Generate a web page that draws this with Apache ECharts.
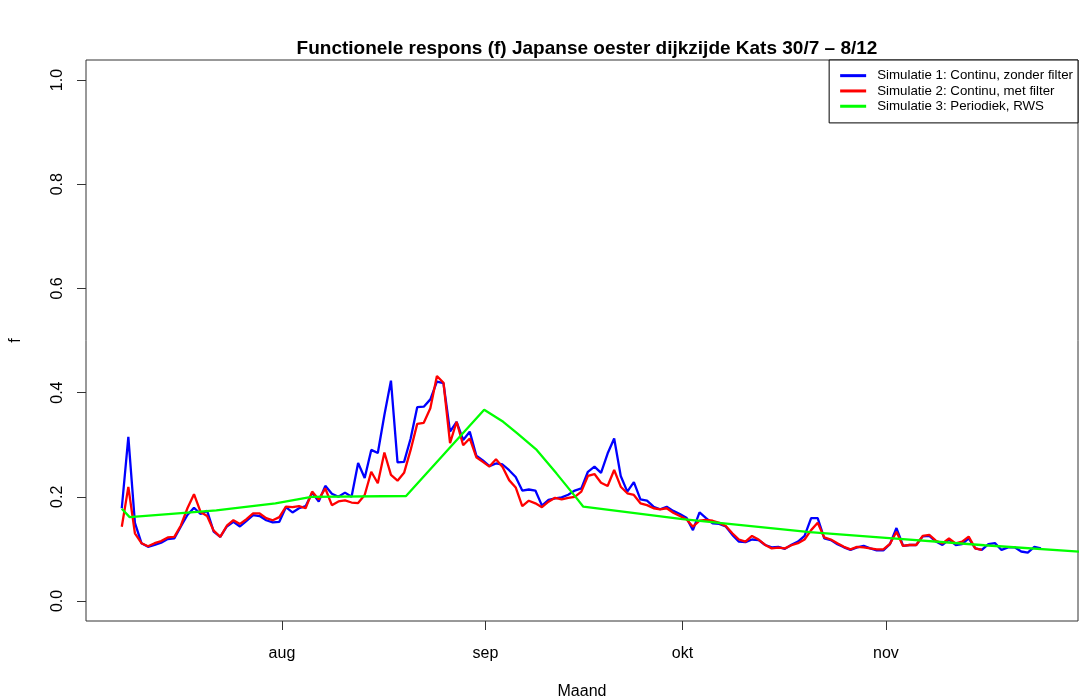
<!DOCTYPE html>
<html>
<head>
<meta charset="utf-8">
<script src="https://cdn.jsdelivr.net/npm/echarts@6/dist/echarts.min.js"></script>
<style>
html,body{margin:0;padding:0;background:#fff;}
#chart{width:1079px;height:700px;}
</style>
</head>
<body>
<div id="chart"></div>
<script>
// Day of year of first daily sample
const startDay = 188.6;

// Month tick positions (day of year) and labels
const monthDays = [213, 244, 274, 305];
const monthLabels = ['aug', 'sep', 'okt', 'nov'];
const yTicks = [0, 0.2, 0.4, 0.6, 0.8, 1.0];

// Simulatie 1: Continu, zonder filter (daily)
const sim1 = [
  0.178, 0.315, 0.150, 0.111, 0.104, 0.1075, 0.112, 0.119, 0.120, 0.143,
  0.165, 0.179, 0.167, 0.173, 0.133, 0.123, 0.143, 0.152, 0.143, 0.154,
  0.165, 0.163, 0.155, 0.151, 0.152, 0.180, 0.170, 0.178, 0.182, 0.208,
  0.191, 0.221, 0.206, 0.200, 0.208, 0.200, 0.265, 0.236, 0.290, 0.284,
  0.357, 0.423, 0.266, 0.267, 0.312, 0.372, 0.373, 0.387, 0.421, 0.418,
  0.325, 0.344, 0.309, 0.325, 0.279, 0.270, 0.259, 0.264, 0.262, 0.251,
  0.238, 0.212, 0.214, 0.212, 0.183, 0.194, 0.197, 0.199, 0.204, 0.212,
  0.216, 0.248, 0.258, 0.246, 0.283, 0.312, 0.240, 0.210, 0.228, 0.195,
  0.1925, 0.181, 0.176, 0.181, 0.173, 0.167, 0.160, 0.136, 0.170, 0.159,
  0.149, 0.148, 0.143, 0.127, 0.114, 0.113, 0.118, 0.117, 0.1075, 0.103,
  0.104, 0.100, 0.108, 0.114, 0.125, 0.159, 0.159, 0.120, 0.117, 0.109,
  0.103, 0.098, 0.103, 0.106, 0.101, 0.097, 0.097, 0.109, 0.140, 0.106,
  0.1075, 0.1075, 0.124, 0.125, 0.114, 0.1075, 0.118, 0.1075, 0.109, 0.120,
  0.101, 0.098, 0.109, 0.111, 0.098, 0.103, 0.103, 0.095, 0.093, 0.104,
  0.101
];

// Simulatie 2: Continu, met filter (daily)
const sim2 = [
  0.1426, 0.219, 0.130, 0.111, 0.105, 0.111, 0.115, 0.122, 0.123, 0.145,
  0.178, 0.205, 0.171, 0.163, 0.135, 0.123, 0.1445, 0.155, 0.148, 0.157,
  0.168, 0.168, 0.159, 0.155, 0.161, 0.181, 0.180, 0.182, 0.178, 0.210,
  0.195, 0.216, 0.184, 0.191, 0.193, 0.189, 0.188, 0.2035, 0.248, 0.226,
  0.285, 0.242, 0.231, 0.246, 0.290, 0.340, 0.342, 0.370, 0.432, 0.419,
  0.303, 0.344, 0.299, 0.312, 0.276, 0.267, 0.258, 0.272, 0.257, 0.232,
  0.218, 0.182, 0.1925, 0.1875, 0.180, 0.1906, 0.198, 0.195, 0.198, 0.200,
  0.210, 0.240, 0.2437, 0.227, 0.2207, 0.2514, 0.2194, 0.2067, 0.2035, 0.1875,
  0.184, 0.178, 0.176, 0.178, 0.1695, 0.163, 0.157, 0.1426, 0.154, 0.1555,
  0.154, 0.150, 0.144, 0.130, 0.118, 0.1138, 0.1248, 0.118, 0.1075, 0.101,
  0.1024, 0.101, 0.107, 0.111, 0.118, 0.136, 0.150, 0.122, 0.118, 0.1107,
  0.104, 0.099, 0.104, 0.103, 0.101, 0.099, 0.099, 0.1094, 0.133, 0.1056,
  0.1075, 0.1075, 0.1248, 0.1267, 0.1157, 0.1107, 0.120, 0.1107, 0.1138, 0.1235,
  0.101, 0.098
];

// Simulatie 3: Periodiek, RWS (vertices)
const sim3Days   = [188.6, 189.8, 203, 212, 217.5, 231.9, 243.8, 246.7, 248.8, 251.8, 254.8, 257.9, 258.9, 274, 293.4, 305, 320, 334.6];
const sim3Values = [0.177, 0.161, 0.174, 0.1875, 0.200, 0.2015, 0.367, 0.344, 0.322, 0.290, 0.245, 0.197, 0.181, 0.157, 0.132, 0.121, 0.107, 0.0945];

const seriesNames = ['Simulatie 1: Continu, zonder filter', 'Simulatie 2: Continu, met filter', 'Simulatie 3: Periodiek, RWS'];

const toPairs = arr => arr.map((v, i) => [startDay + i, v]);
const greenPairs = sim3Days.map((d, i) => [d, sim3Values[i]]);

const FONT = "'Liberation Sans', Arial, Helvetica, sans-serif";
const chart = echarts.init(document.getElementById('chart'), null, {renderer: 'canvas'});

const option = {
  animation: false,
  backgroundColor: '#ffffff',
  textStyle: {fontFamily: FONT, color: '#000'},
  title: {
    text: 'Functionele respons (f) Japanse oester dijkzijde Kats 30/7 – 8/12',
    left: 582, top: 34, textAlign: 'center',
    textStyle: {fontFamily: FONT, fontSize: 19, fontWeight: 'bold', color: '#000'}
  },
  legend: {
    orient: 'vertical', right: 1, top: 60,
    padding: [8, 5, 9, 11],
    itemGap: 0, itemWidth: 26, itemHeight: 3, icon: 'rect',
    borderColor: '#000', borderWidth: 1, backgroundColor: '#fff',
    textStyle: {fontFamily: FONT, fontSize: 13.3, lineHeight: 15.3, color: '#000', padding: [0, 0, 0, 6]},
    data: seriesNames
  },
  grid: {
    left: 86, right: 1, top: 60, bottom: 79,
    outerBoundsMode: 'none', containLabel: false,
    show: true, borderColor: '#333', borderWidth: 1, backgroundColor: 'transparent'
  },
  xAxis: {
    type: 'value', min: 183.15, max: 334.25,
    name: 'Maand', nameLocation: 'middle', nameGap: 63,
    nameTextStyle: {fontFamily: FONT, fontSize: 16, color: '#000'},
    axisLine: {show: false, onZero: false},
    splitLine: {show: false},
    axisTick: {show: true, length: 9, lineStyle: {color: '#333'}, customValues: monthDays},
    axisLabel: {
      fontFamily: FONT, fontSize: 16, color: '#000', margin: 25,
      customValues: monthDays,
      formatter: v => { const k = monthDays.indexOf(Math.round(v)); return k >= 0 ? monthLabels[k] : ''; }
    }
  },
  yAxis: {
    type: 'value', min: -0.0384, max: 1.0384,
    name: 'f', nameLocation: 'middle', nameGap: 62, nameRotate: 90,
    nameTextStyle: {fontFamily: FONT, fontSize: 16, color: '#000'},
    axisLine: {show: false, onZero: false},
    splitLine: {show: false},
    axisTick: {show: true, length: 9, lineStyle: {color: '#333'}, customValues: yTicks},
    axisLabel: {
      fontFamily: FONT, fontSize: 16, color: '#000', margin: 20, rotate: 90,
      customValues: yTicks,
      formatter: v => v.toFixed(1)
    }
  },
  series: [
    {name: seriesNames[0], type: 'line', data: toPairs(sim1), symbol: 'none', color: '#0000ff',
     lineStyle: {width: 2.3, color: '#0000ff'}, z: 2},
    {name: seriesNames[1], type: 'line', data: toPairs(sim2), symbol: 'none', color: '#ff0000',
     lineStyle: {width: 2.3, color: '#ff0000'}, z: 3},
    {name: seriesNames[2], type: 'line', data: greenPairs, symbol: 'none', color: '#00ff00',
     lineStyle: {width: 2.3, color: '#00ff00'}, z: 4}
  ]
};
chart.setOption(option);
</script>
</body>
</html>
